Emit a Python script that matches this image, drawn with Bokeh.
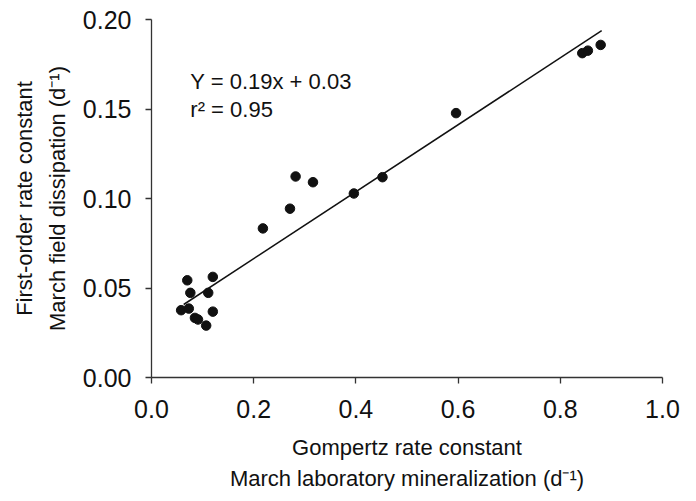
from bokeh.plotting import figure
from bokeh.models import Range1d, FixedTicker, Label
from bokeh.embed import file_html
from bokeh.resources import INLINE

# data
lab_rate = [0.058, 0.070, 0.073, 0.076, 0.085, 0.091, 0.107, 0.111, 0.120, 0.120,
            0.218, 0.271, 0.282, 0.316, 0.396, 0.452, 0.596, 0.843, 0.854, 0.879]
field_rate = [0.0376, 0.0543, 0.0385, 0.0473, 0.0333, 0.0324, 0.0290, 0.0473, 0.0562, 0.0368,
              0.0833, 0.0943, 0.1123, 0.1091, 0.1028, 0.1119, 0.1477, 0.1812, 0.1826, 0.1858]
fit_slope = 0.187
fit_intercept = 0.029
fit_x = [0.063, 0.881]
x_ticks = [0.0, 0.2, 0.4, 0.6, 0.8, 1.0]
y_ticks = [0.00, 0.05, 0.10, 0.15, 0.20]
eq_text = "Y = 0.19x + 0.03"
r2_text = "r\u00b2 = 0.95"

FONT = "Liberation Sans"

p = figure(width=688, height=493, output_backend="svg", toolbar_location=None,
           x_range=Range1d(0, 1.0), y_range=Range1d(0, 0.20),
           min_border_left=151, min_border_right=26, min_border_top=19, min_border_bottom=115)
p.outline_line_color = None
p.grid.visible = False
p.background_fill_color = "white"
p.border_fill_color = "white"

fit_y = [fit_slope * x + fit_intercept for x in fit_x]
p.line(fit_x, fit_y, line_color="#111111", line_width=1.5)
p.scatter(lab_rate, field_rate, size=9.5, fill_color="#111111", line_color="#111111")

for ax in (p.xaxis[0], p.yaxis[0]):
    ax.axis_line_color = "#333333"
    ax.axis_line_width = 1.3
    ax.major_tick_line_color = "#333333"
    ax.major_tick_line_width = 1.3
    ax.major_tick_out = 6
    ax.major_tick_in = 0
    ax.minor_tick_out = 0
    ax.minor_tick_in = 0
    ax.major_label_text_font = FONT
    ax.major_label_text_font_size = "25px"
    ax.major_label_text_color = "#111111"
    ax.axis_label_text_font = FONT
    ax.axis_label_text_font_size = "22px"
    ax.axis_label_text_font_style = "normal"
    ax.axis_label_text_color = "#111111"

p.xaxis.axis_label_text_line_height = 1.25
p.yaxis.axis_label_text_line_height = 1.3
p.xaxis.ticker = FixedTicker(ticks=x_ticks)
p.yaxis.ticker = FixedTicker(ticks=y_ticks)
p.xaxis.major_label_overrides = {t: f"{t:.1f}" for t in x_ticks}
p.yaxis.major_label_overrides = {t: f"{t:.2f}" for t in y_ticks}
p.xaxis.major_label_standoff = 16
p.yaxis.major_label_standoff = 14
p.xaxis.axis_label = "Gompertz rate constant\nMarch laboratory mineralization (d\u207b\u00b9)"
p.yaxis.axis_label = "First-order rate constant\nMarch field dissipation (d\u207b\u00b9)"
p.xaxis.axis_label_standoff = 14
p.yaxis.axis_label_standoff = 10

for txt, yy in ((eq_text, 0.1653), (r2_text, 0.1496)):
    p.add_layout(Label(x=0.076, y=yy, text=txt, text_font=FONT, text_font_size="22px",
                       text_color="#111111", text_baseline="alphabetic"))

open("out.html", "w").write(file_html(p, INLINE))
